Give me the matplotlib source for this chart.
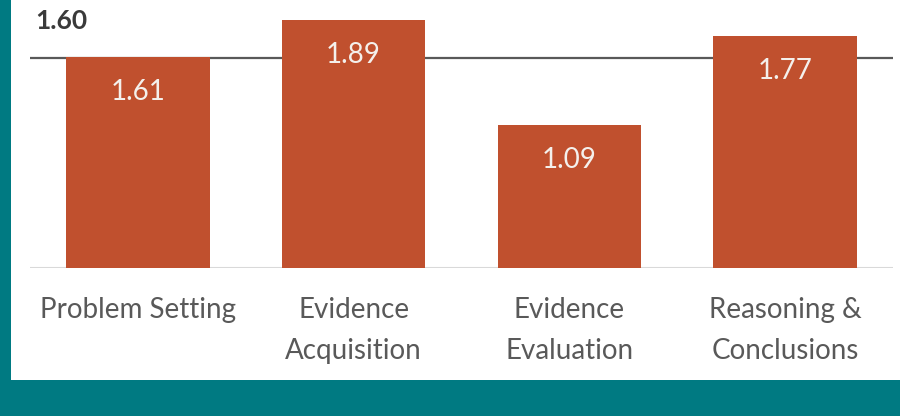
import matplotlib.pyplot as plt
from matplotlib.patches import Rectangle

# dati del grafico
categories = ['Problem Setting', 'Evidence\nAcquisition', 'Evidence\nEvaluation', 'Reasoning &\nConclusions']
scores = [1.61, 1.89, 1.09, 1.77]
benchmark = 1.60

bar_color = '#C0502E'
teal = '#007A82'

plt.rcParams['font.family'] = ['Lato', 'DejaVu Sans']

fig = plt.figure(figsize=(9, 4.16), dpi=100)
fig.patch.set_facecolor(teal)
# pannello bianco
fig.patches.append(Rectangle((11 / 900, 36 / 416), 1, 1, transform=fig.transFigure,
                             facecolor='white', edgecolor='none', zorder=-10))

ax = fig.add_axes([30 / 900, (416 - 268) / 416, 863 / 900, 262.4 / 416])
ax.set_facecolor('none')

x = range(len(categories))
ax.axhline(benchmark, color='#595959', lw=1.6, zorder=1)
ax.axhline(0, color='#D9D9D9', lw=1.5, zorder=1)
bars = ax.bar(x, scores, width=0.665, color=bar_color, zorder=2)

for xi, v in zip(x, scores):
    ax.text(xi, v - 0.267, f'{v:.2f}', ha='center', va='center',
            color='#F4F0EC', fontsize=20, zorder=3)

ax.text(-0.475, benchmark + 0.22, f'{benchmark:.2f}', ha='left', va='baseline',
        fontsize=19, fontweight='bold', color='#3A3A3A')

ax.set_xlim(-0.5, 3.5)
ax.set_ylim(0, 2.0)
ax.set_xticks(list(x))
ax.set_xticklabels(categories, fontsize=20, color='#595959', linespacing=1.7)
ax.tick_params(axis='x', length=0, pad=21)
ax.set_yticks([])
for s in ax.spines.values():
    s.set_visible(False)

fig.savefig('out.png', dpi=100, facecolor=fig.get_facecolor())
